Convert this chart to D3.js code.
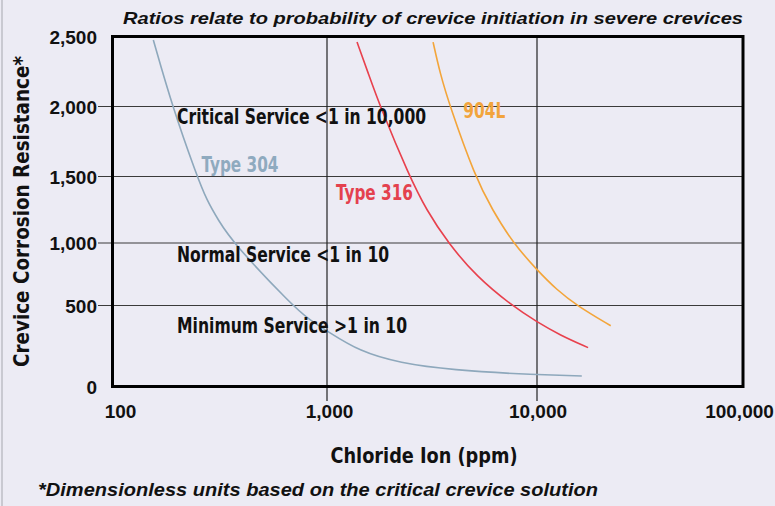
<!DOCTYPE html>
<html>
<head>
<meta charset="utf-8">
<script src="https://cdn.jsdelivr.net/npm/d3@7"></script>
<style>
  html, body { margin: 0; padding: 0; background: #ECEBF4; }
  svg { display: block; }
</style>
</head>
<body>
<svg id="chart" width="775" height="506"></svg>
<script>
// Axis ticks
const xTicks = [100, 1000, 10000, 100000];
const xTickLabels = ["100", "1,000", "10,000", "100,000"];
const yTicks = [0, 500, 1000, 1500, 2000, 2500];
const yTickLabels = ["0", "500", "1,000", "1,500", "2,000", "2,500"];
const yGrid = [500, 1000, 1500, 2000];

// Curves: chloride ion (ppm) vs crevice corrosion resistance
const ppm304 = [155, 190, 248, 275, 311, 365, 694, 833, 1000, 1435, 2226, 3850, 10000, 16500];
const res304 = [2475, 2000, 1500, 1323, 1173, 1000, 496, 410, 343, 215, 145, 102, 71, 65];
const ppm316 = [1390, 1570, 1790, 2470, 2970, 3770, 5160, 7580, 10000, 12900, 17700];
const res316 = [2460, 2240, 2000, 1500, 1250, 1000, 730, 500, 398, 318, 240];
const ppm904 = [3200, 3450, 3850, 5070, 6120, 7690, 10000, 12500, 15600, 22800];
const res904 = [2460, 2240, 2000, 1500, 1250, 1000, 784, 624, 500, 375];

// Service zone annotations
const zoneLabels = ["Critical Service <1 in 10,000", "Normal Service <1 in 10", "Minimum Service >1 in 10"];
const zoneLevels = [1875, 848, 330];

const condensed = "'Liberation Sans Narrow','Arial Narrow','DejaVu Sans Condensed',sans-serif";
const sans = "'Liberation Sans',Arial,sans-serif";

const svg = d3.select("#chart");

const x = d3.scaleLog().domain(xTicks).range([112.5, 327, 537, 743]);
const y = d3.scaleLinear().domain(yTicks).range([386.5, 305.5, 243, 176.5, 106.5, 36.5]);

const [x0, x1] = [x(100), x(100000)];
const [yBot, yTop] = [y(0), y(2500)];

// faint page edge
svg.append("line").attr("x1", 2).attr("x2", 2).attr("y1", 0).attr("y2", 506)
  .attr("stroke", "#C9C9D1").attr("stroke-width", 2);

// Title
svg.append("text").attr("x", 123).attr("y", 23.5)
  .attr("font-family", sans).attr("font-weight", "bold").attr("font-style", "italic")
  .attr("font-size", 16.5).attr("textLength", 620).attr("lengthAdjust", "spacingAndGlyphs")
  .attr("fill", "#111").text("Ratios relate to probability of crevice initiation in severe crevices");

// Horizontal grid
svg.append("g").selectAll("line").data(yGrid).join("line")
  .attr("x1", 98).attr("x2", x1).attr("y1", d => y(d)).attr("y2", d => y(d))
  .attr("stroke", "#3a3a3a").attr("stroke-width", 1.2);

// Vertical grid
svg.append("g").selectAll("line").data([1000, 10000]).join("line")
  .attr("x1", d => x(d)).attr("x2", d => x(d)).attr("y1", yTop).attr("y2", 401)
  .attr("stroke", "#222").attr("stroke-width", 1.2);

// Y axis labels
const yAxis = svg.append("g").attr("transform", `translate(${x0},0)`)
  .call(d3.axisLeft(y).tickValues(yTicks).tickFormat((d, i) => yTickLabels[i]).tickSize(0).tickPadding(15.5));
yAxis.select(".domain").remove();
yAxis.selectAll("text").attr("font-family", sans).attr("font-weight", "bold")
  .attr("font-size", 19).attr("fill", "#111").attr("dy", "0.36em");

// X axis labels
const xShift = [7.5, 2, 0.5, -4];
const xAxis = svg.append("g").attr("transform", `translate(0,${yBot})`)
  .call(d3.axisBottom(x).tickValues(xTicks).tickFormat((d, i) => xTickLabels[i]).tickSize(0).tickPadding(25));
xAxis.select(".domain").remove();
xAxis.selectAll("text").attr("font-family", sans).attr("font-weight", "bold")
  .attr("font-size", 19).attr("fill", "#111").attr("dy", "0.36em")
  .attr("dx", (d, i) => xShift[i]);

// Curves
const line = d3.line().x(d => x(d[0])).y(d => y(d[1])).curve(d3.curveBasis);
const series = [
  { ppm: ppm304, res: res304, color: "#8EA8BC" },
  { ppm: ppm316, res: res316, color: "#E8414D" },
  { ppm: ppm904, res: res904, color: "#F3A53A" }
];
svg.append("g").selectAll("path").data(series).join("path")
  .attr("d", s => line(d3.zip(s.ppm, s.res)))
  .attr("fill", "none").attr("stroke", s => s.color).attr("stroke-width", 1.6);

// Frame
svg.append("rect").attr("x", x0).attr("y", yTop).attr("width", x1 - x0).attr("height", yBot - yTop)
  .attr("fill", "none").attr("stroke", "#000").attr("stroke-width", 3);

// Zone labels
const zoneWidths = [249, 212, 230];
svg.append("g").selectAll("text").data(zoneLabels).join("text")
  .attr("x", x(200)).attr("y", (d, i) => y(zoneLevels[i]))
  .attr("font-family", condensed).attr("font-weight", "bold").attr("font-size", 21)
  .attr("textLength", (d, i) => zoneWidths[i]).attr("lengthAdjust", "spacingAndGlyphs")
  .attr("fill", "#111").text(d => d);

// Series labels
const seriesLabels = [
  { text: "Type 304", ppm: 260, res: 1534, w: 77, color: "#8FAABF" },
  { text: "Type 316", ppm: 1104, res: 1323, w: 77, color: "#E4414E" },
  { text: "904L", ppm: 4457, res: 1918, w: 42, color: "#F2A43C" }
];
svg.append("g").selectAll("text").data(seriesLabels).join("text")
  .attr("x", d => x(d.ppm)).attr("y", d => y(d.res))
  .attr("font-family", condensed).attr("font-weight", "bold").attr("font-size", 21)
  .attr("textLength", d => d.w).attr("lengthAdjust", "spacingAndGlyphs")
  .attr("fill", d => d.color).text(d => d.text);

// Axis titles
svg.append("text").attr("x", 424).attr("y", 463).attr("text-anchor", "middle")
  .attr("font-family", condensed).attr("font-weight", "bold").attr("font-size", 21)
  .attr("textLength", 187).attr("lengthAdjust", "spacingAndGlyphs")
  .attr("fill", "#111").text("Chloride Ion (ppm)");

svg.append("text").attr("transform", "translate(29,211.5) rotate(-90)").attr("text-anchor", "middle")
  .attr("font-family", condensed).attr("font-weight", "bold").attr("font-size", 21)
  .attr("textLength", 311).attr("lengthAdjust", "spacingAndGlyphs")
  .attr("fill", "#111").text("Crevice Corrosion Resistance*");

// Footnote
svg.append("text").attr("x", 38).attr("y", 496)
  .attr("font-family", sans).attr("font-weight", "bold").attr("font-style", "italic")
  .attr("font-size", 17.5).attr("textLength", 560).attr("lengthAdjust", "spacingAndGlyphs")
  .attr("fill", "#111").text("*Dimensionless units based on the critical crevice solution");
</script>
</body>
</html>
